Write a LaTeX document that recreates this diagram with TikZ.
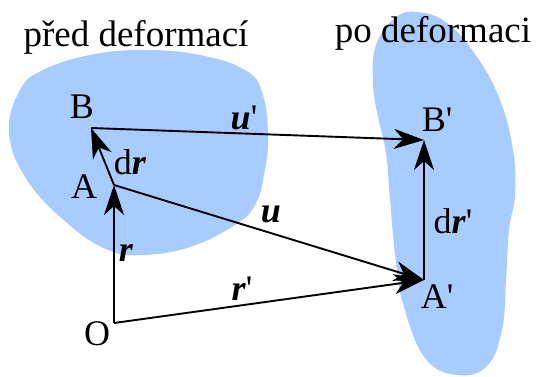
\documentclass[tikz,border=0pt]{standalone}
\usepackage{fontspec}
\setmainfont{Liberation Serif}
\usetikzlibrary{arrows.meta}
\definecolor{blob}{HTML}{A8CCFF}
\newcommand{\bv}[1]{\textbf{\textit{#1}}}
\newcommand{\pr}{\textquotesingle}
\begin{document}
\begin{tikzpicture}[x=1pt,y=-1pt,
  vec/.style={line width=1.9pt,-{Stealth[length=30pt,width=20pt,inset=9pt]}},
  lbl/.style={font=\fontsize{36}{40}\selectfont,inner sep=0pt},
  ttl/.style={font=\fontsize{37}{40}\selectfont,inner sep=0pt}]
\useasboundingbox (0,0) rectangle (538,377);
% blobs
\fill[blob] plot[smooth cycle,tension=0.7] coordinates {(143,50) (200,55) (245,70) (262,92) (268,135) (264,175) (255,205) (235,225) (190,247) (143,255) (108,250) (67,223) (27,180) (9,133) (20,90) (43,70) (90,55)};
\fill[blob] plot[smooth cycle,tension=0.7] coordinates {(417,12) (447,23) (477,57) (500,100) (513,150) (515,195) (509,230) (506,280) (502,330) (487,366) (457,375) (425,358) (404,307) (396,263) (390,200) (386,153) (378,117) (373,83) (376,45) (395,18)};
% titles
\node[ttl] (t1) at (136,37) {před deformací};
\node[ttl] (t2) at (433,33) {po deformaci};
% points
\coordinate (O) at (114,323);
\coordinate (A) at (114,185);
\coordinate (B) at (91,128);
\coordinate (A2) at (424,280);
\coordinate (B2) at (424,140);
% vectors
\draw[vec] (O) -- (A);
\draw[vec] (A) -- (B);
\draw[vec] (B) -- (B2);
\draw[vec] (A) -- (A2);
\draw[vec] (O) -- (A2);
\draw[vec] (A2) -- (B2);
% labels
\node[lbl] (lB) at (82,107) {B};
\node[lbl] (lA) at (84,187) {A};
\node[lbl] (lO) at (97,334) {O};
\node[lbl] (ldr) at (130,162) {d\bv{r}};
\node[lbl] (lr) at (126,253) {\bv{r}};
\node[lbl] (lu2) at (244,118) {\bv{u}\pr};
\node[lbl] (lu) at (271,214) {\bv{u}};
\node[lbl] (lr2) at (242,289) {\bv{r}\pr};
\node[lbl] (lB2) at (437,120) {B\pr};
\node[lbl] (lA2) at (437,297) {A\pr};
\node[lbl] (ldr2) at (453,221) {d\bv{r}\pr};
\end{tikzpicture}
\end{document}
